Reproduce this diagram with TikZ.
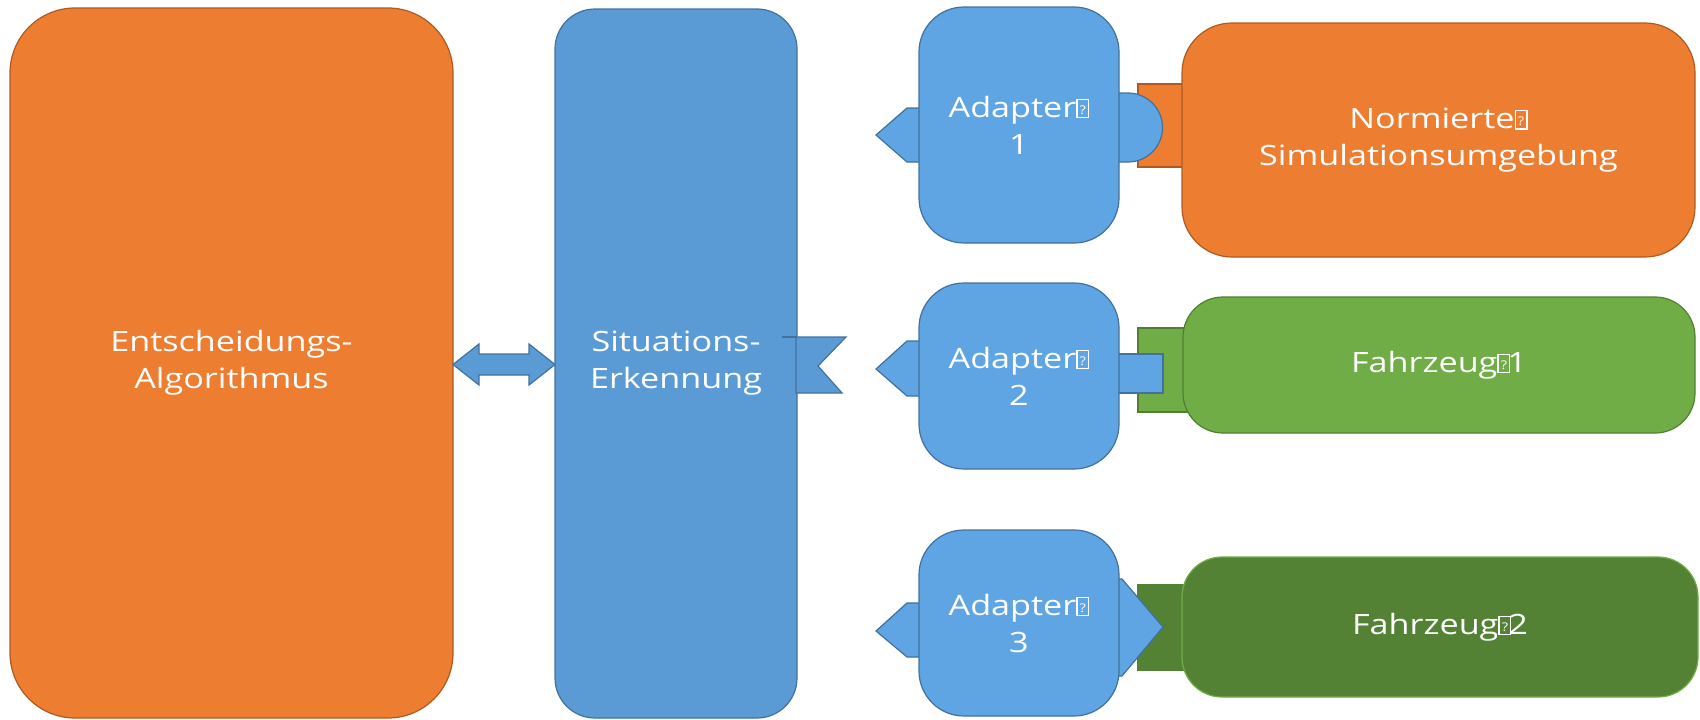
\documentclass[tikz,border=0pt]{standalone}
\usepackage{fontspec}
\newfontfamily\labelfont[FakeStretch=1.22]{Open Sans}

\definecolor{orangefill}{HTML}{ED7D31}
\definecolor{orangeline}{HTML}{AE5A21}
\definecolor{bluefill}{HTML}{5B9BD5}
\definecolor{blueline}{HTML}{41719C}
\definecolor{adapterfill}{HTML}{60A5E3}
\definecolor{greenfill}{HTML}{70AD47}
\definecolor{greenline}{HTML}{507E32}
\definecolor{darkgreenfill}{HTML}{548235}

% placeholder glyph shown for an unavailable character
\newcommand\missingglyph{{\setlength\fboxsep{0pt}\setlength\fboxrule{1.2pt}%
  \framebox[13pt][c]{\rule{0pt}{17pt}\raisebox{3pt}{\fontsize{12}{12}\selectfont ?}}}}

\begin{document}
\begin{tikzpicture}[x=1pt,y=-1pt,
  box/.style={rectangle, inner sep=0pt, outer sep=0pt, line width=1.2pt,
    text=white, align=center, font=\labelfont\fontsize{28}{37}\selectfont},
  orangebox/.style={box, fill=orangefill, draw=orangeline},
  sitbox/.style={box, fill=bluefill, draw=blueline},
  adapterbox/.style={box, fill=adapterfill, draw=blueline, rounded corners=45pt,
    minimum width=200pt},
  plug/.style={fill=adapterfill, draw=blueline, line width=1.2pt, line join=miter},
  socket/.style={line width=1.2pt}
]
\useasboundingbox (0,0) rectangle (1700,720);

% sockets behind the environment boxes
\draw[socket, fill=orangefill, draw=orangeline] (1138,84) rectangle (1190,167);
\draw[socket, fill=greenfill, draw=greenline] (1138,328) rectangle (1190,412);
\draw[socket, fill=darkgreenfill, draw=darkgreenfill] (1138,585) rectangle (1190,670);

% main blocks
\node[orangebox, rounded corners=65pt, minimum width=443pt, minimum height=710pt]
  (ent) at (231.5,363) {Entscheidungs-\\Algorithmus};
\node[sitbox, rounded corners=40pt, minimum width=242pt, minimum height=709pt]
  (sit) at (676,363.5) {Situations-\\Erkennung};

\node[orangebox, rounded corners=50pt, minimum width=513pt, minimum height=234pt]
  (sim) at (1438.5,140) {Normierte\missingglyph\\Simulationsumgebung};
\node[box, fill=greenfill, draw=greenline, rounded corners=40pt,
  minimum width=512pt, minimum height=136pt]
  (fz1) at (1439,365) {Fahrzeug\missingglyph\kern-3pt 1};
\node[box, fill=darkgreenfill, draw=greenfill, rounded corners=40pt,
  minimum width=516pt, minimum height=140pt]
  (fz2) at (1440,627) {Fahrzeug\missingglyph\kern-3pt 2};

% double arrow between decision and recognition
\draw[plug, fill=bluefill] (ent.east |- 0,364.5) -- (479,344) -- (479,354) -- (529,354)
  -- (529,344) -- (sit.west |- 0,364.5) -- (529,385) -- (529,375) -- (479,375)
  -- (479,385) -- cycle;

% notched input on the recognition block
\draw[plug, fill=bluefill] (796,337) -- (846,337) -- (818,366) -- (842,393)
  -- (796,393) -- cycle;
\draw[blueline, line width=1.2pt] (782,337) -- (796,337);

% adapter plugs towards the recognition block
\draw[plug] (925,108) -- (907,108) -- (876,135) -- (907,162) -- (925,162) -- cycle;
\draw[plug] (925,341) -- (907,341) -- (876,369) -- (907,396) -- (925,396) -- cycle;
\draw[plug] (925,603) -- (907,603) -- (876,631) -- (907,657) -- (925,657) -- cycle;

% adapter plugs towards the environments
\draw[plug] (1110,93) -- (1128,93)
  arc[start angle=90, end angle=-90, radius=34.5pt] -- (1110,162) -- cycle;
\draw[plug] (1110,354) rectangle (1163,393);
\draw[plug] (1110,579) -- (1122,579) -- (1163,627) -- (1122,676) -- (1110,676) -- cycle;

% adapters
\node[adapterbox, minimum height=236pt] (ad1) at (1019,125) {Adapter\missingglyph\\1};
\node[adapterbox, minimum height=186pt] (ad2) at (1019,376) {Adapter\missingglyph\\2};
\node[adapterbox, minimum height=186pt] (ad3) at (1019,623) {Adapter\missingglyph\\3};
\end{tikzpicture}
\end{document}
